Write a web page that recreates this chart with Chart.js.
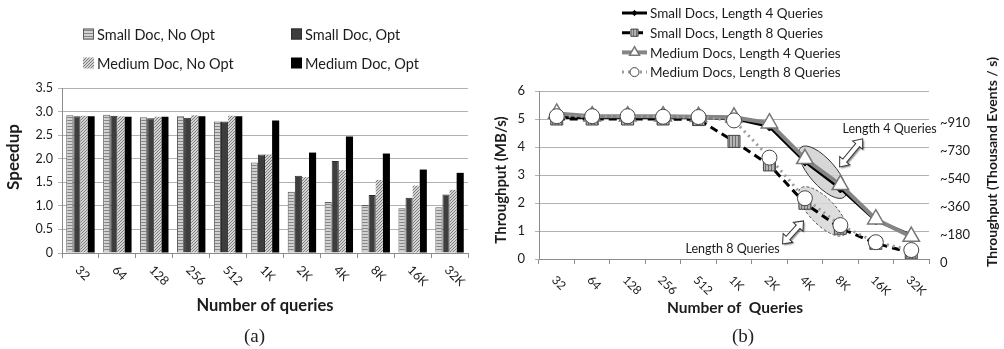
<!DOCTYPE html>
<html lang="en">
<head>
<meta charset="UTF-8">
<title>Speedup and throughput</title>
<script src="https://cdn.jsdelivr.net/npm/chart.js"></script>
<style>
  body { margin: 0; background: #fff; width: 1004px; height: 349px; position: relative; overflow: hidden; }
  .panel { position: absolute; top: 0; height: 349px; }
  #left { left: 0; width: 490px; }
  #right { left: 480px; width: 524px; }
  .cap { position: absolute; top: 326px; line-height: 20px; font-family: "Liberation Serif", serif; font-size: 19px; color: #222; }
</style>
</head>
<body>
<div class="panel" id="left"><canvas id="speedChart"></canvas></div>
<div class="panel" id="right"><canvas id="tputChart"></canvas></div>
<div class="cap" style="left:244px">(a)</div>
<div class="cap" style="left:732px">(b)</div>

<script>
// ---- data ----
const queryCounts = ['32', '64', '128', '256', '512', '1K', '2K', '4K', '8K', '16K', '32K'];

const speedupSeries = ['Small Doc, No Opt', 'Small Doc, Opt', 'Medium Doc, No Opt', 'Medium Doc, Opt'];
const smallNoOpt  = [2.92, 2.93, 2.88, 2.90, 2.79, 1.92, 1.30, 1.08, 1.02, 0.95, 0.97];
const smallOpt    = [2.90, 2.91, 2.86, 2.87, 2.79, 2.09, 1.64, 1.95, 1.23, 1.17, 1.24];
const mediumNoOpt = [2.91, 2.90, 2.89, 2.92, 2.91, 2.09, 1.61, 1.76, 1.55, 1.43, 1.34];
const mediumOpt   = [2.90, 2.89, 2.89, 2.90, 2.90, 2.81, 2.13, 2.47, 2.11, 1.77, 1.70];

const throughputSeries = ['Small Docs, Length 4 Queries', 'Small Docs, Length 8 Queries',
                          'Medium Docs, Length 4 Queries', 'Medium Docs, Length 8 Queries'];
const smallLen4  = [5.05, 5.05, 5.05, 5.05, 5.05, 5.02, 4.73, 3.48, 2.52, 1.38, 0.85];
const smallLen8  = [5.00, 5.00, 5.00, 5.00, 4.98, 4.20, 3.36, 1.99, 1.10, 0.56, 0.22];
const mediumLen4 = [5.20, 5.10, 5.10, 5.10, 5.08, 5.06, 4.85, 3.58, 2.65, 1.42, 0.80];
const mediumLen8 = [5.10, 5.10, 5.10, 5.08, 5.07, 4.95, 3.62, 2.17, 1.21, 0.60, 0.32];
const eventTicks = ['0', '~180', '~360', '~540', '~730', '~910'];

// annotation anchors in data space (category index, MB/s)
const noteLen4 = { text: 'Length 4 Queries', at: [9.39, 4.64], arrow: [[7.98, 3.29], [8.63, 4.29]], ring: [7.5, 3.1] };
const noteLen8 = { text: 'Length 8 Queries', at: [4.96, 0.36], arrow: [[6.37, 0.54], [6.96, 1.36]], ring: [7.5, 1.7] };

// ---- fills ----
function makePattern(w, h, draw) {
  const c = document.createElement('canvas');
  c.width = w; c.height = h;
  const g = c.getContext('2d');
  draw(g, w, h);
  return g.createPattern(c, 'repeat');
}
const hStripes = makePattern(4, 3, (g, w, h) => {
  g.fillStyle = '#d2d2d2'; g.fillRect(0, 0, w, h);
  g.fillStyle = '#858585'; g.fillRect(0, 0, w, 1);
});
const diagHatch = makePattern(3, 3, (g, w, h) => {
  g.fillStyle = '#d4d4d4'; g.fillRect(0, 0, w, h);
  g.fillStyle = '#7c7c7c';
  for (let i = 0; i < 3; i++) g.fillRect(i, 2 - i, 1, 1);
});
const vStripes = makePattern(3, 4, (g, w, h) => {
  g.fillStyle = '#b4b4b4'; g.fillRect(0, 0, w, h);
  g.fillStyle = '#6e6e6e'; g.fillRect(0, 0, 1, h);
});

const LABEL_FONT = 'Lato, "Open Sans", sans-serif';
const TEXT = '#1c1c1c';

function drawSlantLabels(chart, size, dx, dy) {
  const { ctx } = chart;
  const xs = chart.scales.x;
  ctx.save();
  ctx.font = size + 'px ' + LABEL_FONT;
  ctx.fillStyle = TEXT;
  ctx.textAlign = 'left';
  ctx.textBaseline = 'middle';
  xs.getLabels().forEach((lab, i) => {
    ctx.save();
    ctx.translate(xs.getPixelForValue(i) + dx, xs.top + dy);
    ctx.rotate(Math.PI / 4);
    ctx.fillText(lab, 0, 0);
    ctx.restore();
  });
  ctx.restore();
}

function drawTitle(ctx, text, x, y, size, vertical) {
  ctx.save();
  ctx.translate(x, y);
  if (vertical) ctx.rotate(-Math.PI / 2);
  ctx.font = 'bold ' + size + 'px ' + LABEL_FONT;
  ctx.fillStyle = TEXT;
  ctx.textAlign = 'center';
  ctx.textBaseline = 'middle';
  ctx.fillText(text, 0, 0);
  ctx.restore();
}

// ---- (a) speedup bars ----
const barStyles = [
  { backgroundColor: hStripes, borderColor: '#5c5c5c', borderWidth: 1 },
  { backgroundColor: '#3e3e3e', borderColor: '#2c2c2c', borderWidth: 1 },
  { backgroundColor: diagHatch, borderColor: '#bdbdbd', borderWidth: 0 },
  { backgroundColor: '#000000', borderColor: '#000000', borderWidth: 0 }
];

const speedDecor = {
  id: 'speedDecor',
  afterDraw(chart) {
    const { ctx, chartArea } = chart;
    drawSlantLabels(chart, 12.5, -3, 15);
    drawTitle(ctx, 'Number of queries', (chartArea.left + chartArea.right) / 2, 306, 16.5, false);
    drawTitle(ctx, 'Speedup', chartArea.left - 48, chartArea.top + 69, 17, true);

    // 2x2 legend above the plot
    ctx.save();
    ctx.font = '14.5px ' + LABEL_FONT;
    ctx.textBaseline = 'middle';
    ctx.textAlign = 'left';
    speedupSeries.forEach((name, i) => {
      const x = chartArea.left + 21 + (i % 2) * 208;
      const y = 34 + Math.floor(i / 2) * 29;
      const st = barStyles[i];
      ctx.fillStyle = st.backgroundColor;
      ctx.fillRect(x, y - 5.5, 11, 11);
      if (st.borderWidth) {
        ctx.strokeStyle = st.borderColor; ctx.lineWidth = 1;
        ctx.strokeRect(x + 0.5, y - 5, 10, 10);
      }
      ctx.fillStyle = TEXT;
      ctx.fillText(name, x + 14, y + 1);
    });
    ctx.restore();
  }
};

new Chart(document.getElementById('speedChart'), {
  type: 'bar',
  data: {
    labels: queryCounts,
    datasets: [smallNoOpt, smallOpt, mediumNoOpt, mediumOpt].map((d, i) => Object.assign({
      label: speedupSeries[i],
      data: d,
      categoryPercentage: 0.77,
      barPercentage: 1.0
    }, barStyles[i]))
  },
  options: {
    responsive: true,
    maintainAspectRatio: false,
    animation: false,
    layout: { padding: { top: 88, right: 22, left: 0, bottom: 0 } },
    plugins: { legend: { display: false }, tooltip: { enabled: false } },
    scales: {
      x: {
        ticks: { display: false },
        grid: { drawOnChartArea: false, tickLength: 5, color: '#8c8c8c', offset: true },
        border: { color: '#8c8c8c' },
        afterFit(s) { s.height = 96; }
      },
      y: {
        min: 0, max: 3.5,
        ticks: { stepSize: 0.5, font: { family: LABEL_FONT, size: 12.5 }, color: TEXT, padding: 5 },
        grid: { color: '#b2b2b2', tickLength: 4 },
        border: { color: '#8c8c8c' },
        afterFit(s) { s.width = 62; }
      }
    }
  },
  plugins: [speedDecor]
});

// ---- (b) throughput lines ----
const lineStyles = [
  { borderColor: '#000', borderWidth: 3, borderDash: [],
    pointStyle: 'rectRot', pointRadius: 4.5, pointBackgroundColor: '#000', pointBorderColor: '#000', pointBorderWidth: 1, order: 3 },
  { borderColor: '#000', borderWidth: 3, borderDash: [8, 5],
    pointStyle: 'rect', pointRadius: 8.5, pointBackgroundColor: vStripes, pointBorderColor: '#444', pointBorderWidth: 1, order: 4 },
  { borderColor: '#858585', borderWidth: 4, borderDash: [],
    pointStyle: 'triangle', pointRadius: 9.5, pointBackgroundColor: '#fff', pointBorderColor: '#777', pointBorderWidth: 1.5, order: 2 },
  { borderColor: '#9c9c9c', borderWidth: 3, borderDash: [2, 4],
    pointStyle: 'circle', pointRadius: 7.5, pointBackgroundColor: '#fff', pointBorderColor: '#444', pointBorderWidth: 1, order: 1 }
];

function drawDoubleArrow(ctx, x1, y1, x2, y2) {
  const L = Math.hypot(x2 - x1, y2 - y1);
  const hl = 8, hw = 6.5, sw = 2.5;
  ctx.save();
  ctx.translate(x1, y1);
  ctx.rotate(Math.atan2(y2 - y1, x2 - x1));
  ctx.beginPath();
  ctx.moveTo(0, 0);
  ctx.lineTo(hl, -hw); ctx.lineTo(hl, -sw); ctx.lineTo(L - hl, -sw); ctx.lineTo(L - hl, -hw);
  ctx.lineTo(L, 0);
  ctx.lineTo(L - hl, hw); ctx.lineTo(L - hl, sw); ctx.lineTo(hl, sw); ctx.lineTo(hl, hw);
  ctx.closePath();
  ctx.shadowColor = 'rgba(0,0,0,0.45)';
  ctx.shadowOffsetX = 1.5; ctx.shadowOffsetY = 1.5; ctx.shadowBlur = 1.5;
  ctx.fillStyle = '#fff';
  ctx.fill();
  ctx.shadowColor = 'transparent';
  ctx.strokeStyle = '#333'; ctx.lineWidth = 1;
  ctx.stroke();
  ctx.restore();
}

const tputDecor = {
  id: 'tputDecor',
  beforeDatasetsDraw(chart) {
    const { ctx, scales } = chart;
    const px = (p) => [scales.x.getPixelForValue(p[0]), scales.y.getPixelForValue(p[1])];
    ctx.save();
    let [cx, cy] = px(noteLen4.ring);
    ctx.beginPath();
    ctx.ellipse(cx, cy, 33, 13, 0.85, 0, Math.PI * 2);
    ctx.fillStyle = 'rgba(205,205,205,0.8)'; ctx.fill();
    ctx.strokeStyle = '#333'; ctx.lineWidth = 1; ctx.stroke();
    [cx, cy] = px(noteLen8.ring);
    ctx.beginPath();
    ctx.ellipse(cx, cy, 32, 13, 0.8, 0, Math.PI * 2);
    ctx.fillStyle = 'rgba(215,215,215,0.85)'; ctx.fill();
    ctx.setLineDash([3, 2]);
    ctx.strokeStyle = '#555'; ctx.stroke();
    ctx.restore();
  },
  afterDraw(chart) {
    const { ctx, chartArea, scales } = chart;
    const px = (p) => [scales.x.getPixelForValue(p[0]), scales.y.getPixelForValue(p[1])];

    [noteLen4, noteLen8].forEach(n => {
      const a = px(n.arrow[0]), b = px(n.arrow[1]);
      drawDoubleArrow(ctx, a[0], a[1], b[0], b[1]);
      const t = px(n.at);
      ctx.save();
      ctx.font = '12.5px ' + LABEL_FONT;
      ctx.fillStyle = TEXT; ctx.textAlign = 'center'; ctx.textBaseline = 'middle';
      ctx.fillText(n.text, t[0], t[1]);
      ctx.restore();
    });

    drawSlantLabels(chart, 12, -3, 19);
    drawTitle(ctx, 'Number of  Queries', (chartArea.left + chartArea.right) / 2 + 1, 308, 15.5, false);
    drawTitle(ctx, 'Throughput (MB/s)', chartArea.left - 38, chartArea.top + 89, 15, true);
    drawTitle(ctx, 'Throughput (Thousand Events / s)', chartArea.right + 63, chartArea.top + 71, 14, true);

    // legend rows, line sample with marker in the middle
    ctx.save();
    ctx.font = '13.5px ' + LABEL_FONT;
    ctx.textAlign = 'left'; ctx.textBaseline = 'middle';
    throughputSeries.forEach((name, i) => {
      const st = lineStyles[i];
      const x0 = chartArea.left + 83, y = 13 + i * 19.7;
      ctx.save();
      ctx.strokeStyle = st.borderColor;
      ctx.lineWidth = st.borderWidth;
      ctx.setLineDash(st.borderDash);
      ctx.beginPath(); ctx.moveTo(x0, y); ctx.lineTo(x0 + 25, y); ctx.stroke();
      ctx.setLineDash([]);
      ctx.fillStyle = st.pointBackgroundColor;
      ctx.strokeStyle = st.pointBorderColor;
      ctx.lineWidth = st.pointBorderWidth;
      Chart.helpers.drawPoint(ctx, {
        pointStyle: st.pointStyle, radius: st.pointRadius * 0.6, rotation: 0, borderWidth: st.pointBorderWidth
      }, x0 + 12.5, y);
      ctx.restore();
      ctx.fillStyle = TEXT;
      ctx.fillText(name, x0 + 28, y + 1);
    });
    ctx.restore();
  }
};

new Chart(document.getElementById('tputChart'), {
  type: 'line',
  data: {
    labels: queryCounts,
    datasets: [smallLen4, smallLen8, mediumLen4, mediumLen8].map((d, i) => Object.assign({
      label: throughputSeries[i],
      data: d,
      tension: 0,
      fill: false,
      yAxisID: 'y'
    }, lineStyles[i]))
  },
  options: {
    responsive: true,
    maintainAspectRatio: false,
    animation: false,
    layout: { padding: { top: 91, right: 0, left: 0, bottom: 0 } },
    plugins: { legend: { display: false }, tooltip: { enabled: false } },
    scales: {
      x: {
        offset: true,
        ticks: { display: false },
        grid: { drawOnChartArea: false, tickLength: 5, color: '#8c8c8c', offset: true },
        border: { color: '#8c8c8c' },
        afterFit(s) { s.height = 90; }
      },
      y: {
        min: 0, max: 6,
        ticks: { stepSize: 1, font: { family: LABEL_FONT, size: 13 }, color: TEXT, padding: 10 },
        grid: { color: '#b2b2b2', tickLength: 4 },
        border: { color: '#8c8c8c' },
        afterFit(s) { s.width = 59; }
      },
      y2: {
        position: 'right',
        min: 0, max: 6,
        ticks: {
          stepSize: 1, font: { family: LABEL_FONT, size: 13 }, color: TEXT, padding: 11, labelOffset: 4,
          callback: (v) => eventTicks[v] ?? ''
        },
        grid: { drawOnChartArea: false, drawTicks: false },
        border: { display: false },
        afterFit(s) { s.width = 75; }
      }
    }
  },
  plugins: [tputDecor]
});
</script>
</body>
</html>
